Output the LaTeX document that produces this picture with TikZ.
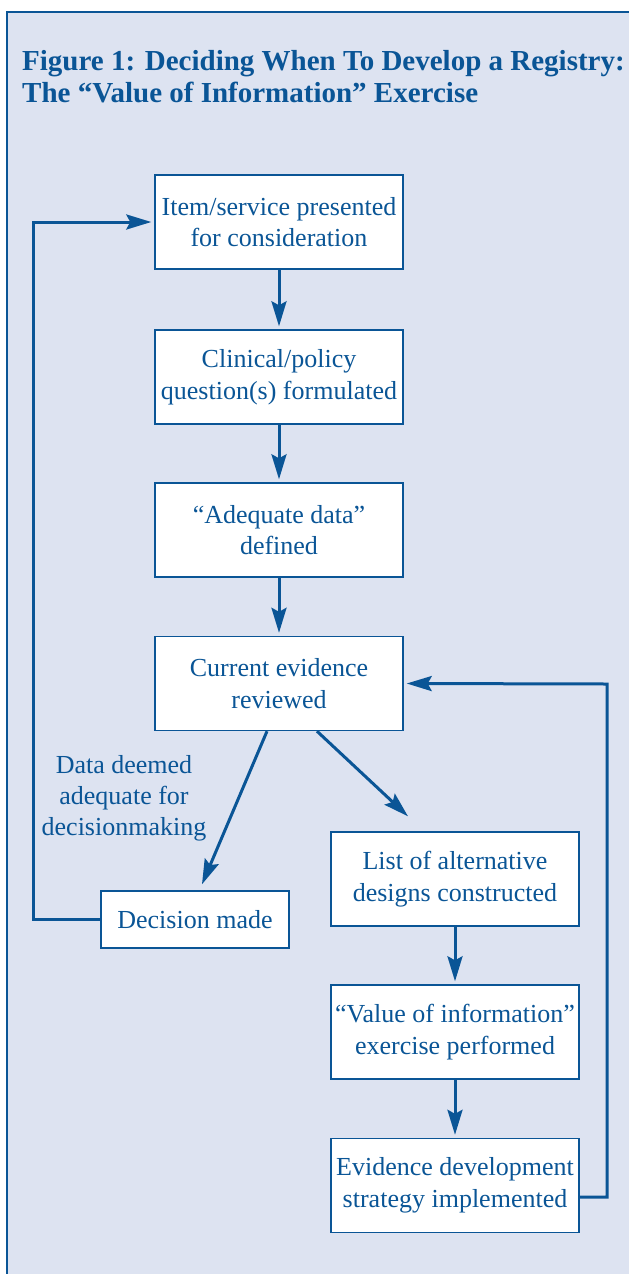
\documentclass[tikz,border=0pt]{standalone}
\usepackage{fontspec}
\setmainfont{Liberation Serif}
\usetikzlibrary{arrows.meta}
\definecolor{fblue}{RGB}{10,85,150}
\definecolor{fbg}{RGB}{221,227,241}
\begin{document}
\begin{tikzpicture}[x=1pt,y=-1pt,
  box/.style={draw=fblue, line width=1.4pt, fill=white, minimum width=248pt, minimum height=94pt,
    align=center, text=fblue, font=\fontsize{26}{31.5}\selectfont, inner sep=0pt},
  smallbox/.style={box, minimum width=188pt, minimum height=57pt},
  conn/.style={draw=fblue, line width=3pt, -{Stealth[length=25pt,width=15pt,inset=4pt]}},
  lbl/.style={align=center, text=fblue, font=\fontsize{26}{31}\selectfont, inner sep=0pt},
  ttl/.style={align=left, text=fblue, font=\fontsize{29}{32}\selectfont\bfseries, inner sep=0pt, anchor=north west}]
\useasboundingbox (0,0) rectangle (629,1274);
\fill[fbg] (7,12) rectangle (629,1274);
\draw[fblue, line width=2.6pt] (7,1274) -- (7,12) -- (629,12);
\node[ttl] (title) at (22,50) {Figure 1: Deciding When To Develop a Registry:\\The \char"201C Value of Information\char"201D{} Exercise};
\node[box] (b1) at (279,222) {Item/service presented\\for consideration};
\node[box] (b2) at (279,377) {Clinical/policy\\question(s) formulated};
\node[box] (b3) at (279,530) {\char"201C Adequate data\char"201D\\defined};
\node[box] (b4) at (279,683.5) {Current evidence\\reviewed};
\node[smallbox] (dm) at (195,919.5) {Decision made};
\node[box] (ls) at (455,879) {List of alternative\\designs constructed};
\node[box] (vo) at (455,1032) {\char"201C Value of information\char"201D\\exercise performed};
\node[box] (ev) at (455,1185.5) {Evidence development\\strategy implemented};
\node[lbl] (lab) at (124,798) {Data deemed\\adequate for\\decisionmaking};
\coordinate (lc) at (33,222);
\coordinate (rc) at (607,684);
\draw[conn] (b1.south) -- ([yshift=3pt]b2.north);
\draw[conn] (b2.south) -- ([yshift=3pt]b3.north);
\draw[conn] (b3.south) -- ([yshift=3pt]b4.north);
\draw[conn] ([xshift=-12pt]b4.south) -- ([xshift=7pt,yshift=6pt]dm.north);
\draw[conn] ([xshift=38pt]b4.south) -- ([xshift=-47pt,yshift=15pt]ls.north);
\draw[conn] (ls.south) -- ([yshift=3pt]vo.north);
\draw[conn] (vo.south) -- ([yshift=3pt]ev.north);
\draw[conn] (dm.west) -| (lc) -- ([xshift=-3pt]b1.west);
\draw[conn] ([yshift=-11.5pt]ev.east) -| (rc) -- ([xshift=3pt]b4.east);
\end{tikzpicture}
\end{document}
